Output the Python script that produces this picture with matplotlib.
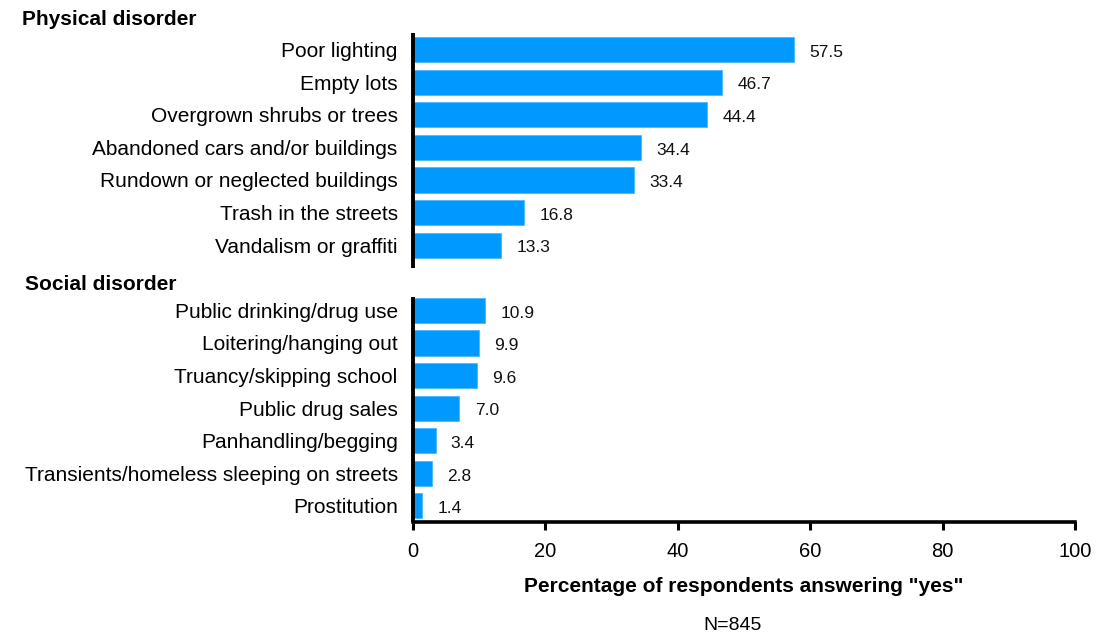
import matplotlib.pyplot as plt

plt.rcParams['font.family'] = ['Liberation Sans', 'DejaVu Sans']

physical_labels = ['Poor lighting', 'Empty lots', 'Overgrown shrubs or trees',
                   'Abandoned cars and/or buildings', 'Rundown or neglected buildings',
                   'Trash in the streets', 'Vandalism or graffiti']
physical_values = [57.5, 46.7, 44.4, 34.4, 33.4, 16.8, 13.3]

social_labels = ['Public drinking/drug use', 'Loitering/hanging out',
                 'Truancy/skipping school', 'Public drug sales', 'Panhandling/begging',
                 'Transients/homeless sleeping on streets', 'Prostitution']
social_values = [10.9, 9.9, 9.6, 7.0, 3.4, 2.8, 1.4]

xticks = [0, 20, 40, 60, 80, 100]

bar_color = '#0099FF'

fig = plt.figure(figsize=(10.97, 6.4), dpi=100)
ax = fig.add_axes([0.3765, 0.184, 0.6035, 0.764])

# physical group at slots 0..6, social group at 8..14 (one empty slot between)
pos_phys = list(range(len(physical_values)))
pos_soc = [p + len(physical_values) + 1 for p in range(len(social_values))]
positions = pos_phys + pos_soc
labels = physical_labels + social_labels
values = physical_values + social_values

ax.barh(positions, values, height=0.77, color=bar_color, edgecolor='#4db8ff', linewidth=0.6)

for p, v in zip(positions, values):
    ax.annotate(f'{v:.1f}', xy=(v, p), xytext=(11, -2), textcoords='offset points',
                ha='left', va='center', fontsize=12.5, color='#111111')

ax.set_xlim(0, 100)
ax.set_ylim(14.5, -0.5)
ax.set_yticks(positions)
ax.set_yticklabels(labels, fontsize=15)
ax.tick_params(axis='y', length=0, pad=11)
ax.set_xticks(xticks)
ax.set_xticklabels([str(t) for t in xticks], fontsize=14.5)
ax.tick_params(axis='x', direction='out', length=6, width=2.2, pad=8)

for side in ['top', 'right', 'left']:
    ax.spines[side].set_visible(False)
ax.spines['bottom'].set_linewidth(2.6)

# split left spine, one segment per group
ax.plot([0, 0], [-0.5, 6.7], color='black', lw=2.8, clip_on=False, solid_capstyle='butt')
ax.plot([0, 0], [7.6, 14.5], color='black', lw=2.8, clip_on=False, solid_capstyle='butt')

ax.set_xlabel('Percentage of respondents answering "yes"', fontsize=15,
              fontweight='bold', labelpad=12)

fig.text(0.020, 0.970, 'Physical disorder', fontsize=15, fontweight='bold', va='center')
fig.text(0.023, 0.556, 'Social disorder', fontsize=15, fontweight='bold', va='center')
fig.text(0.668, 0.022, 'N=845', fontsize=14, ha='center', va='center')

fig.savefig('out.png', dpi=100)
